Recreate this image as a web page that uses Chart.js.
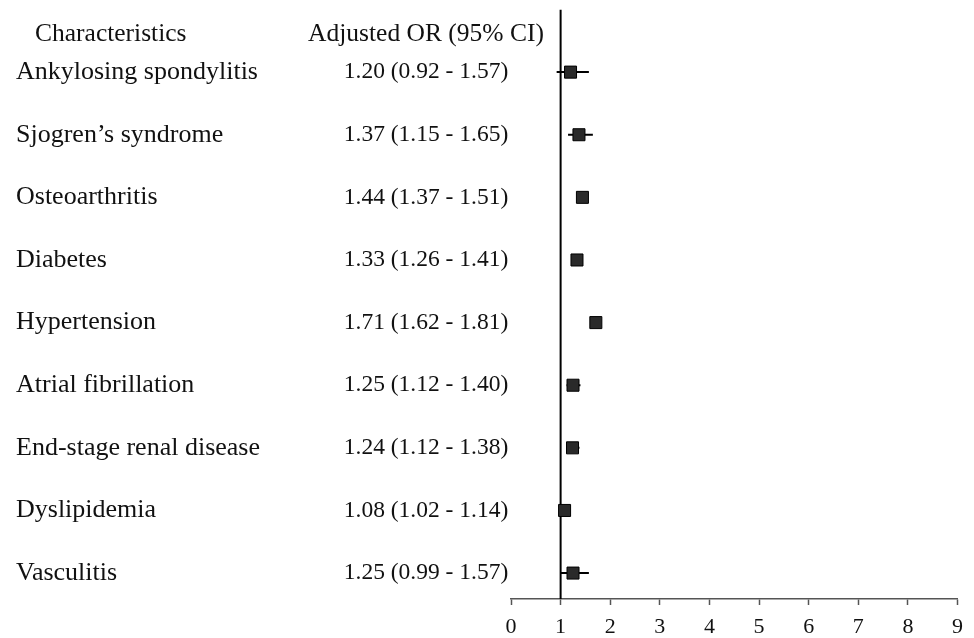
<!DOCTYPE html>
<html><head><meta charset="utf-8">
<script src="https://cdn.jsdelivr.net/npm/chart.js@4/dist/chart.umd.min.js"></script>
<style>html,body{margin:0;padding:0;background:#fff}#wrap{width:974px;height:638px}</style>
</head><body><div id="wrap"><canvas id="c" width="974" height="638"></canvas></div>
<script>
const categories = ["Ankylosing spondylitis","Sjogren\u2019s syndrome","Osteoarthritis","Diabetes","Hypertension","Atrial fibrillation","End-stage renal disease","Dyslipidemia","Vasculitis"];
const oddsRatios = [1.20,1.37,1.44,1.33,1.71,1.25,1.24,1.08,1.25];
const lowerCI = [0.92,1.15,1.37,1.26,1.62,1.12,1.12,1.02,0.99];
const upperCI = [1.57,1.65,1.51,1.41,1.81,1.40,1.38,1.14,1.57];
const xTicks = [0,1,2,3,4,5,6,7,8,9];
const headers = ["Characteristics","Adjusted OR (95% CI)"];

const FONT = '"Liberation Serif","Times New Roman",serif';
const whiskerSets = categories.map((c,i)=>({
  type:'line',data:[{x:lowerCI[i],y:i},{x:upperCI[i],y:i}],
  borderColor:'#000',borderWidth:2,pointRadius:0,order:2
}));

const textPlugin = {
  id:'tablePlugin',
  afterDraw(chart){
    const ctx = chart.ctx, y = chart.scales.y;
    ctx.save();
    ctx.fillStyle = '#111';
    ctx.textBaseline = 'middle';
    const hy = y.getPixelForValue(-0.6);
    ctx.font = '25.5px ' + FONT;
    ctx.textAlign = 'left';
    ctx.fillText(headers[0], 35, hy);
    ctx.textAlign = 'center';
    ctx.fillText(headers[1], 426, hy);
    categories.forEach((c,i)=>{
      const py = y.getPixelForValue(i);
      ctx.font = '26px ' + FONT;
      ctx.textAlign = 'left';
      ctx.fillText(c, 16, py);
      ctx.font = '23.5px ' + FONT;
      ctx.textAlign = 'center';
      ctx.fillText(oddsRatios[i].toFixed(2)+' ('+lowerCI[i].toFixed(2)+' - '+upperCI[i].toFixed(2)+')', 426, py);
    });
    ctx.restore();
  }
};

new Chart(document.getElementById('c'),{
  type:'scatter',
  data:{datasets:[
    {type:'line',data:[{x:1,y:-1},{x:1,y:8.414}],borderColor:'#000',borderWidth:2,pointRadius:0,order:3},
    ...whiskerSets,
    {data:oddsRatios.map((v,i)=>({x:v,y:i})),pointStyle:'rect',pointRadius:8.5,backgroundColor:'#2a2a2a',borderColor:'#000',borderWidth:1,order:1}
  ]},
  options:{
    responsive:false,animation:false,
    layout:{padding:{left:511,right:16,top:7,bottom:0}},
    plugins:{legend:{display:false},tooltip:{enabled:false}},
    scales:{
      x:{type:'linear',min:0,max:9,
        afterBuildTicks(s){s.ticks = xTicks.map(v=>({value:v}));},
        afterFit(s){s.height = 39;},
        border:{display:true,color:'#555',width:1.5},
        grid:{drawOnChartArea:false,drawTicks:true,tickLength:6,color:'#555',tickWidth:1.5},
        ticks:{color:'#111',font:{family:FONT,size:22,lineHeight:1},padding:11,maxRotation:0}},
      y:{type:'linear',min:-1,max:8.414,reverse:true,display:false}
    }
  },
  plugins:[textPlugin]
});
</script></body></html>
